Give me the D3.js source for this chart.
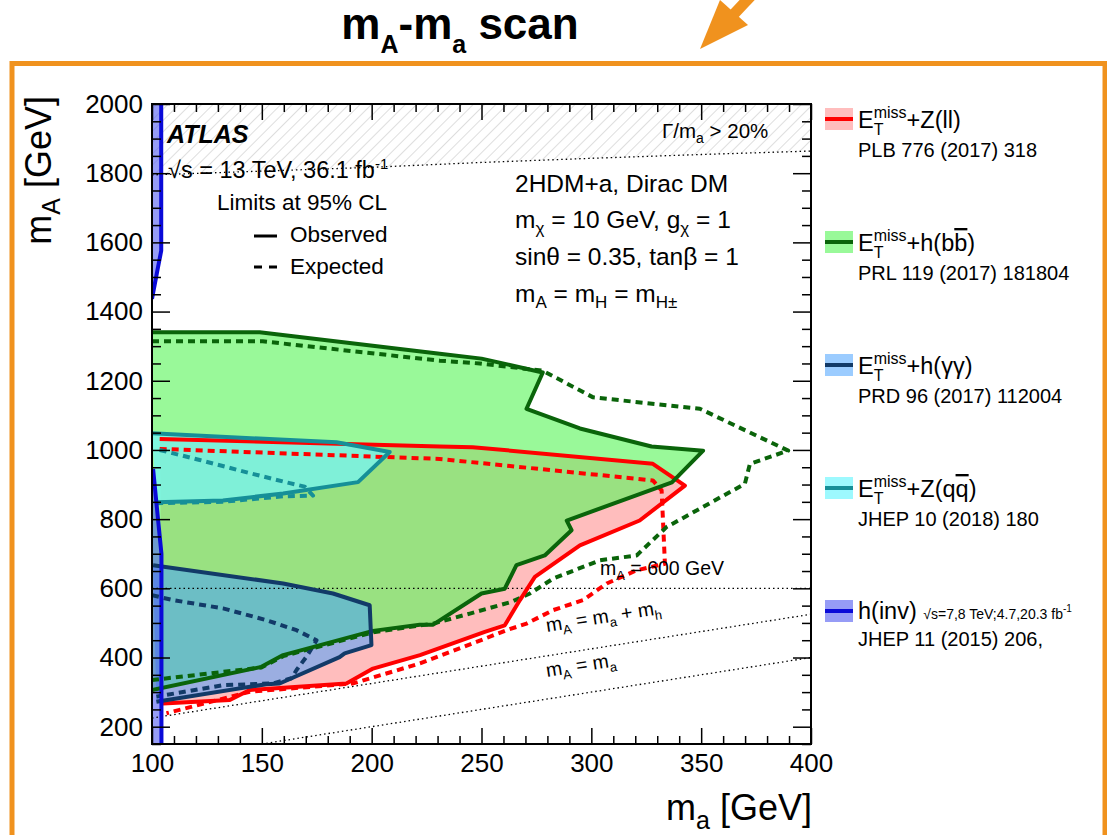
<!DOCTYPE html>
<html>
<head>
<meta charset="utf-8">
<script src="https://cdnjs.cloudflare.com/ajax/libs/d3/7.8.5/d3.min.js"></script>
<style>
  body { margin: 0; background: #fff; }
  svg { display: block; font-family: "Liberation Sans", Arial, Helvetica, sans-serif; }
</style>
</head>
<body>
<svg id="chart" width="1107" height="835"></svg>
<script>
// axis ranges and ticks
var xDomain = [100, 400];
var yDomain = [150, 2000];
var xMajor = [100, 150, 200, 250, 300, 350, 400];
var yMajor = [200, 400, 600, 800, 1000, 1200, 1400, 1600, 1800, 2000];

// contours, [m_a, m_A] in GeV
var zllObserved = [[103.5, 1032], [231, 1010], [246, 1008], [328, 960], [342.6, 897], [322, 796], [294.8, 724], [274.3, 633],
  [267.5, 566], [260.6, 493], [251.5, 474], [222, 407], [200.6, 368], [188.5, 325], [144.5, 306], [135.4, 277], [105, 267]];
var zllExpected = [[103.5, 1003], [231, 974], [328, 912], [332, 883], [333.5, 671], [320.6, 652], [307, 614], [296.3, 566],
  [282.6, 537], [270.5, 498], [261.4, 479], [247.7, 445], [222, 383], [191.5, 325], [144.5, 301], [106.6, 239]];

var hbbObserved = [[100, 1340], [149, 1340], [231, 1278], [250, 1264], [277.9, 1224], [270.5, 1119], [294.8, 1062], [327.4, 1010],
  [350.9, 998], [336.7, 906], [288.8, 796], [291, 768], [278.8, 695], [265.9, 667], [260.6, 599], [250, 585], [228, 495],
  [221.9, 495], [200.6, 477], [159.7, 407], [149.8, 373], [100, 306]];
var hbbExpected = [[100, 1314], [150.4, 1314], [231, 1258], [249.2, 1250], [277.9, 1229], [300.8, 1152], [349.4, 1119], [389.6, 998],
  [372.2, 960], [369.9, 902], [334.2, 777], [320.6, 695], [303.9, 681], [282.6, 628], [272, 585], [263.7, 561], [244.7, 527],
  [228, 498], [200.6, 473], [159.7, 404], [149.8, 371], [100, 335]];

var hggObserved = [[100.5, 667], [159.7, 614], [182.4, 585], [199.1, 551], [199.9, 436], [187.7, 412], [185.4, 401], [158.1, 325],
  [152.1, 323], [102, 272]];
var hggExpected = [[100, 580], [109.6, 566], [132.3, 542], [152.1, 508], [165.8, 479], [174.9, 450], [170.3, 402], [165.8, 364],
  [163.5, 340], [155.1, 325], [132.3, 320], [102, 287]];

var zqqObserved = [[100, 1048], [184, 1022], [208.2, 994], [193.8, 907], [159.7, 874], [132.3, 854], [102, 849]];
var zqqExpected = [[103.5, 1000], [121.7, 971], [144.5, 933], [162.7, 904], [169.5, 894], [173.3, 868], [159.7, 866],
  [132.3, 850], [102, 846]];

var hinvUpper = [[104.2, 2000], [104.2, 1576], [102.7, 1527], [100, 1437]];
var hinvLower = [[100.5, 945], [102.8, 796], [104.3, 700], [104.3, 150]];

// reference lines
var widthLimit = [[100, 1795], [150, 1806], [200, 1817], [250, 1831], [300, 1843], [350, 1854], [400, 1864]];
var line600 = [[100, 600], [400, 600]];
var lineSumMh = [[100, 225], [400, 525]];
var lineEqual = [[150, 150], [400, 400]];

// legend
var legendKeys = ["zll", "hbb", "hgg", "zqq", "hinv"];
var legendRefs = ["PLB 776 (2017) 318", "PRL 119 (2017) 181804", "PRD 96 (2017) 112004", "JHEP 10 (2018) 180", "JHEP 11 (2015) 206,"];

var styles = {
  zll: { fill: "rgb(255,0,0)", op: 0.26, stroke: "#ff0000" },
  hbb: { fill: "rgb(96,246,96)", op: 0.64, stroke: "#0a640a" },
  zqq: { fill: "rgb(116,246,253)", op: 0.7, stroke: "#168f98" },
  hgg: { fill: "rgb(70,160,255)", op: 0.54, stroke: "#123a68" },
  hinv: { fill: "rgb(80,90,240)", op: 0.6, stroke: "#0a0ad8" }
};

var svg = d3.select("#chart");
var plot = { left: 152, right: 811, top: 104, bottom: 744 };
var x = d3.scaleLinear().domain(xDomain).range([plot.left, plot.right]);
var y = d3.scaleLinear().domain(yDomain).range([plot.bottom, plot.top]);
var line = d3.line().x(function (d) { return x(d[0]); }).y(function (d) { return y(d[1]); });

// text with sub/superscripts built from tspans
function rich(parent, px, py, size, parts, anchor) {
  var t = parent.append("text").attr("x", px).attr("y", py).attr("font-size", size).attr("fill", "#000");
  if (anchor) t.attr("text-anchor", anchor);
  var cur = 0, last = null;
  parts.forEach(function (p) {
    if (typeof p === "string") p = { t: p };
    var s = t.append("tspan").text(p.t);
    var off = p.off || 0;
    if (off !== cur) { s.attr("dy", off - cur); cur = off; }
    if (p.size) s.attr("font-size", p.size);
    if (p.back && last) s.attr("dx", -last.node().getComputedTextLength());
    if (p.over) s.attr("text-decoration", "overline");
    last = s;
  });
  return t;
}
var ETmiss = ["E", { t: "T", off: 7, size: 16 }, { t: "miss", off: -10, size: 16, back: true }];

// orange frame, title and arrow
svg.append("rect").attr("x", 12).attr("y", 63.5).attr("width", 1093).attr("height", 800)
  .attr("fill", "none").attr("stroke", "#f0921e").attr("stroke-width", 5);
rich(svg, 460, 39, 44, ["m", { t: "A", off: 14, size: 25 }, "-m", { t: "a", off: 14, size: 25 }, " scan"], "middle")
  .attr("font-weight", "bold");
svg.append("line").attr("x1", 734).attr("y1", 14).attr("x2", 764).attr("y2", -18)
  .attr("stroke", "#f0921e").attr("stroke-width", 11);
svg.append("polygon").attr("points", "700,49 720,0 748,25").attr("fill", "#f0921e");

var defs = svg.append("defs");
defs.append("clipPath").attr("id", "plotClip").append("rect")
  .attr("x", plot.left).attr("y", plot.top).attr("width", plot.right - plot.left).attr("height", plot.bottom - plot.top);
defs.append("pattern").attr("id", "hatch").attr("patternUnits", "userSpaceOnUse")
  .attr("width", 8).attr("height", 8).attr("patternTransform", "rotate(45)")
  .append("line").attr("x1", 0).attr("y1", 0).attr("x2", 0).attr("y2", 8)
  .attr("stroke", "#bdbdbd").attr("stroke-width", 1);

var area = svg.append("g").attr("clip-path", "url(#plotClip)");

// hatched Γ/m_a > 20% region
area.append("path").attr("d", line(widthLimit.concat([[400, 2000], [100, 2000]])) + "Z").attr("fill", "url(#hatch)");

// filled exclusions
function fillRegion(pts, key) {
  area.append("path").attr("d", line(pts) + "Z")
    .attr("fill", styles[key].fill).attr("fill-opacity", styles[key].op);
}
fillRegion(zllObserved, "zll");
fillRegion(hbbObserved, "hbb");
fillRegion(zqqObserved, "zqq");
fillRegion(hggObserved, "hgg");
fillRegion([[100, 2000]].concat(hinvUpper), "hinv");
fillRegion(hinvLower.concat([[100, 150]]), "hinv");

// dotted reference lines
[widthLimit, line600, lineSumMh, lineEqual].forEach(function (pts) {
  area.append("path").attr("d", line(pts)).attr("fill", "none")
    .attr("stroke", "#000").attr("stroke-width", 1.3).attr("stroke-dasharray", "1.5 3");
});

// contour lines
function contour(pts, key, dashed) {
  area.append("path").attr("d", line(pts)).attr("fill", "none")
    .attr("stroke", styles[key].stroke).attr("stroke-width", 4)
    .attr("stroke-linejoin", "round")
    .attr("stroke-dasharray", dashed ? "7 5" : null);
}
contour(zllExpected, "zll", true);
contour(hbbExpected, "hbb", true);
contour(zqqExpected, "zqq", true);
contour(hggExpected, "hgg", true);
contour(zllObserved, "zll", false);
contour(hbbObserved, "hbb", false);
contour(zqqObserved, "zqq", false);
contour(hggObserved, "hgg", false);
contour(hinvUpper, "hinv", false);
contour(hinvLower, "hinv", false);

// axes: major + minor ticks on all four sides
var xMinor = d3.range(100, 401, 10).filter(function (v) { return v % 50 !== 0; });
var yMinor = d3.range(150, 2001, 50).filter(function (v) { return v % 200 !== 0; });
function styleAxis(g) {
  g.select(".domain").remove();
  g.selectAll("line").attr("stroke", "#000").attr("stroke-width", 1.5);
  g.attr("font-family", null).attr("font-size", 26);
  g.selectAll("text").attr("fill", "#000");
}
var fmt = d3.format("d");
svg.append("g").attr("transform", "translate(0," + plot.bottom + ")")
  .call(d3.axisBottom(x).tickValues(xMajor).tickFormat(fmt).tickSizeInner(-16).tickSizeOuter(0).tickPadding(10)).call(styleAxis);
svg.append("g").attr("transform", "translate(0," + plot.bottom + ")")
  .call(d3.axisBottom(x).tickValues(xMinor).tickFormat("").tickSizeInner(-8).tickSizeOuter(0)).call(styleAxis);
svg.append("g").attr("transform", "translate(0," + plot.top + ")")
  .call(d3.axisTop(x).tickValues(xMajor).tickFormat("").tickSizeInner(-16).tickSizeOuter(0)).call(styleAxis);
svg.append("g").attr("transform", "translate(0," + plot.top + ")")
  .call(d3.axisTop(x).tickValues(xMinor).tickFormat("").tickSizeInner(-8).tickSizeOuter(0)).call(styleAxis);
svg.append("g").attr("transform", "translate(" + plot.left + ",0)")
  .call(d3.axisLeft(y).tickValues(yMajor).tickFormat(fmt).tickSizeInner(-18).tickSizeOuter(0).tickPadding(9)).call(styleAxis);
svg.append("g").attr("transform", "translate(" + plot.left + ",0)")
  .call(d3.axisLeft(y).tickValues(yMinor).tickFormat("").tickSizeInner(-9).tickSizeOuter(0)).call(styleAxis);
svg.append("g").attr("transform", "translate(" + plot.right + ",0)")
  .call(d3.axisRight(y).tickValues(yMajor).tickFormat("").tickSizeInner(-18).tickSizeOuter(0)).call(styleAxis);
svg.append("g").attr("transform", "translate(" + plot.right + ",0)")
  .call(d3.axisRight(y).tickValues(yMinor).tickFormat("").tickSizeInner(-9).tickSizeOuter(0)).call(styleAxis);

svg.append("rect").attr("x", plot.left).attr("y", plot.top)
  .attr("width", plot.right - plot.left).attr("height", plot.bottom - plot.top)
  .attr("fill", "none").attr("stroke", "#000").attr("stroke-width", 2);

// axis titles
rich(svg, 812, 820, 36, ["m", { t: "a", off: 9, size: 25 }, { t: " [GeV]", off: 0 }], "end");
rich(svg, 0, 0, 36, ["m", { t: "A", off: 9, size: 25 }, { t: " [GeV]", off: 0 }], "end")
  .attr("transform", "translate(51,96) rotate(-90)");

// labels inside the frame
svg.append("text").attr("x", 167).attr("y", 143).attr("font-size", 25)
  .attr("font-weight", "bold").attr("font-style", "italic").text("ATLAS");
rich(svg, 168, 178, 23.5, ["\u221As = 13 TeV, 36.1 fb", { t: "-1", off: -9, size: 15 }]);
svg.append("text").attr("x", 217).attr("y", 210).attr("font-size", 22.5).text("Limits at 95% CL");
svg.append("line").attr("x1", 254).attr("x2", 277).attr("y1", 236).attr("y2", 236).attr("stroke", "#000").attr("stroke-width", 3);
svg.append("text").attr("x", 290).attr("y", 242).attr("font-size", 22.5).text("Observed");
svg.append("line").attr("x1", 254).attr("x2", 277).attr("y1", 267).attr("y2", 267).attr("stroke", "#000")
  .attr("stroke-width", 3).attr("stroke-dasharray", "8 7");
svg.append("text").attr("x", 290).attr("y", 274).attr("font-size", 22.5).text("Expected");

rich(svg, 662, 138, 20.5, ["\u0393/m", { t: "a", off: 5, size: 14 }, { t: " > 20%", off: 0 }]);
svg.append("text").attr("x", 515).attr("y", 192).attr("font-size", 24.5).text("2HDM+a, Dirac DM");
rich(svg, 515, 228, 24.5, ["m", { t: "\u03C7", off: 6, size: 17 }, { t: " = 10 GeV, g", off: 0 }, { t: "\u03C7", off: 6, size: 17 }, { t: " = 1", off: 0 }]);
svg.append("text").attr("x", 515).attr("y", 265).attr("font-size", 24.5).text("sin\u03B8 = 0.35, tan\u03B2 = 1");
rich(svg, 515, 302, 24.5, ["m", { t: "A", off: 6, size: 17 }, { t: " = m", off: 0 }, { t: "H", off: 6, size: 17 },
  { t: " = m", off: 0 }, { t: "H\u00B1", off: 6, size: 17 }]);

rich(svg, 600, 575, 19.5, ["m", { t: "A", off: 5, size: 13 }, { t: " = 600 GeV", off: 0 }]);
var angle = Math.atan2(y(525) - y(225), x(400) - x(100)) * 180 / Math.PI;
rich(svg, 0, 0, 19.5, ["m", { t: "A", off: 5, size: 13 }, { t: " = m", off: 0 }, { t: "a", off: 5, size: 13 },
  { t: " + m", off: 0 }, { t: "h", off: 5, size: 13 }]).attr("transform", "translate(547,632) rotate(" + angle + ")");
rich(svg, 0, 0, 19.5, ["m", { t: "A", off: 5, size: 13 }, { t: " = m", off: 0 }, { t: "a", off: 5, size: 13 }])
  .attr("transform", "translate(547,677) rotate(" + angle + ")");

// legend on the right
var legendLabels = [
  ETmiss.concat([{ t: "+Z(ll)", off: 0 }]),
  ETmiss.concat([{ t: "+h(b", off: 0 }, { t: "b", over: true }, ")"]),
  ETmiss.concat([{ t: "+h(\u03B3\u03B3)", off: 0 }]),
  ETmiss.concat([{ t: "+Z(q", off: 0 }, { t: "q", over: true }, ")"]),
  ["h(inv) ", { t: "\u221As=7,8 TeV;4.7,20.3 fb", size: 14 }, { t: "-1", off: -7, size: 10 }]
];
legendKeys.forEach(function (key, i) {
  var cy = 119 + i * 123;
  var st = styles[key];
  svg.append("rect").attr("x", 825).attr("y", cy - 11).attr("width", 28).attr("height", 22)
    .attr("fill", st.fill).attr("fill-opacity", st.op);
  svg.append("line").attr("x1", 825).attr("x2", 853).attr("y1", cy).attr("y2", cy)
    .attr("stroke", st.stroke).attr("stroke-width", 4);
  rich(svg, 858, cy + (key === "hinv" ? 8 : 9), 23.5, legendLabels[i]);
  svg.append("text").attr("x", 858).attr("y", cy + (key === "hinv" ? 35 : 38)).attr("font-size", 20).text(legendRefs[i]);
});
</script>
</body>
</html>
